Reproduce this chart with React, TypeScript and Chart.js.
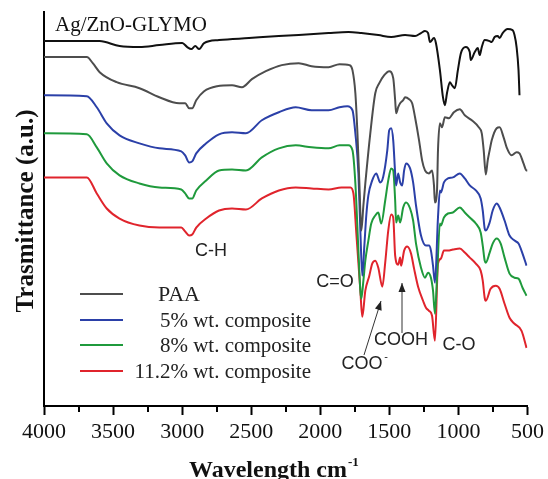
import React, { useEffect, useRef } from 'react';
import { Chart, registerables } from 'chart.js';

Chart.register(...registerables);

// x axis (wavenumber, cm-1), reversed
const X_TICKS = [4000, 3750, 3500, 3250, 3000, 2750, 2500, 2250, 2000, 1750, 1500, 1250, 1000, 750, 500];
const X_LABELS = [4000, 3500, 3000, 2500, 2000, 1500, 1000, 500];

// Ag/ZnO-GLYMO
const WN_GLYMO = [4000, 3813, 3597, 3453, 3309, 3165, 2999, 2963, 2934, 2905, 2877, 2841, 2733, 2516, 2300, 2156, 1940, 1796, 1703, 1580, 1487, 1386, 1314, 1271, 1242, 1220, 1206, 1177, 1163, 1134, 1112, 1098, 1083, 1062, 1047, 1026, 1004, 982, 947, 918, 911, 882, 860, 846, 831, 810, 774, 759, 738, 716, 702, 680, 644, 608, 594, 579, 565, 558];
const T_GLYMO = [364, 364, 364, 359, 358, 360, 362, 358, 356, 359, 356, 362, 365, 367, 369, 370, 372, 373, 372, 370, 368, 370, 369, 372, 374, 372, 363, 367, 362, 335, 308, 300, 312, 323, 320, 317, 335, 352, 358, 353, 345, 353, 357, 350, 358, 365, 364, 363, 368, 369, 367, 372, 376, 375, 370, 358, 335, 310];

// PAA
const WN_PAA = [4000, 3690, 3647, 3597, 3474, 3309, 3165, 3021, 2978, 2949, 2927, 2898, 2841, 2747, 2639, 2567, 2495, 2394, 2279, 2156, 2063, 1940, 1861, 1789, 1767, 1746, 1731, 1717, 1703, 1688, 1674, 1638, 1602, 1573, 1537, 1501, 1472, 1458, 1451, 1436, 1422, 1400, 1386, 1357, 1335, 1314, 1285, 1263, 1242, 1213, 1191, 1177, 1170, 1155, 1148, 1134, 1119, 1098, 1069, 1033, 990, 954, 903, 853, 831, 817, 802, 788, 774, 759, 723, 702, 673, 651, 615, 579, 558, 529, 507, 500];
const T_PAA = [348, 348, 342, 333, 323, 317, 308, 302, 302, 297, 297, 305, 314, 319, 320, 318, 326, 334, 340, 342, 339, 338, 341, 340, 335, 312, 272, 222, 175, 200, 222, 272, 312, 322, 330, 334, 327, 305, 292, 298, 302, 305, 308, 306, 302, 288, 265, 245, 235, 232, 235, 220, 203, 215, 255, 282, 278, 288, 287, 293, 296, 290, 285, 278, 272, 255, 231, 245, 255, 265, 277, 278, 268, 258, 250, 253, 252, 242, 235, 235];

// 5% wt. composite
const WN_5 = [4000, 3690, 3618, 3546, 3453, 3309, 3165, 3006, 2978, 2949, 2927, 2898, 2826, 2733, 2639, 2538, 2423, 2300, 2178, 2063, 1940, 1861, 1804, 1767, 1746, 1724, 1710, 1696, 1681, 1667, 1652, 1624, 1595, 1566, 1544, 1515, 1501, 1487, 1472, 1458, 1451, 1436, 1422, 1407, 1393, 1379, 1350, 1328, 1307, 1271, 1235, 1213, 1199, 1184, 1170, 1148, 1134, 1127, 1105, 1076, 1040, 990, 954, 918, 874, 839, 824, 810, 802, 774, 752, 723, 702, 666, 630, 594, 565, 536, 507];
const T_5 = [310, 309, 298, 282, 270, 262, 257, 254, 250, 243, 244, 252, 262, 271, 273, 272, 285, 293, 298, 295, 295, 298, 299, 295, 272, 232, 175, 130, 160, 190, 210, 225, 232, 223, 229, 255, 275, 277, 265, 232, 220, 232, 223, 220, 235, 242, 237, 223, 200, 170, 160, 160, 155, 140, 123, 188, 215, 213, 223, 227, 228, 232, 227, 220, 215, 207, 195, 177, 175, 183, 195, 202, 198, 185, 170, 165, 162, 152, 140];

// 8% wt. composite
const WN_8 = [4000, 3690, 3618, 3546, 3453, 3309, 3165, 3006, 2978, 2949, 2927, 2898, 2826, 2733, 2639, 2538, 2423, 2300, 2178, 2063, 1940, 1861, 1796, 1767, 1746, 1724, 1710, 1703, 1688, 1674, 1652, 1631, 1602, 1580, 1559, 1530, 1508, 1487, 1472, 1458, 1451, 1436, 1422, 1400, 1379, 1350, 1328, 1307, 1271, 1242, 1220, 1199, 1184, 1170, 1155, 1134, 1127, 1105, 1076, 1040, 990, 954, 918, 874, 839, 824, 810, 802, 774, 752, 723, 694, 666, 630, 594, 565, 536, 507];
const T_8 = [272, 271, 258, 242, 230, 222, 218, 216, 212, 207, 207, 215, 225, 235, 236, 235, 248, 257, 260, 258, 257, 260, 260, 255, 222, 155, 115, 107, 125, 145, 165, 182, 190, 193, 182, 205, 225, 237, 235, 205, 183, 190, 183, 198, 203, 197, 185, 162, 138, 128, 133, 128, 115, 92, 128, 182, 180, 188, 192, 193, 198, 193, 188, 182, 173, 160, 145, 143, 153, 162, 167, 162, 148, 132, 128, 127, 118, 110];

// 11.2% wt. composite
const WN_11 = [4000, 3690, 3618, 3546, 3453, 3309, 3165, 3006, 2978, 2949, 2927, 2898, 2826, 2733, 2639, 2538, 2423, 2300, 2178, 2063, 1940, 1847, 1782, 1760, 1739, 1710, 1696, 1674, 1645, 1624, 1602, 1580, 1551, 1530, 1508, 1487, 1472, 1458, 1436, 1422, 1415, 1393, 1371, 1343, 1321, 1292, 1256, 1235, 1213, 1191, 1170, 1148, 1127, 1105, 1076, 1040, 990, 954, 918, 874, 839, 824, 810, 802, 767, 730, 702, 666, 630, 594, 543, 507];
const T_11 = [228, 228, 212, 197, 187, 180, 178, 178, 174, 170, 171, 178, 187, 195, 197, 196, 207, 215, 218, 217, 216, 218, 218, 212, 172, 115, 89, 115, 130, 142, 145, 138, 119, 143, 175, 191, 188, 150, 141, 148, 140, 155, 159, 152, 137, 119, 105, 98, 95, 90, 65, 142, 147, 155, 155, 156, 157, 153, 148, 142, 135, 125, 108, 105, 117, 120, 117, 102, 88, 82, 75, 58];

const SERIES_NAMES = ['Ag/ZnO-GLYMO', 'PAA', '5% wt. composite', '8% wt. composite', '11.2% wt. composite'];
const SERIES_COLORS = ['#111111', '#4d4d4d', '#2b40a8', '#1f9a3c', '#e0242c'];

const SERIF = '"Liberation Serif", "Times New Roman", serif';
const SANS = '"Liberation Sans", Arial, sans-serif';

export default function App() {
  const ref = useRef<HTMLCanvasElement>(null);

  useEffect(() => {
    const zip = (w: number[], t: number[]) => w.map((x, i) => ({ x, y: t[i] }));
    const wns = [WN_GLYMO, WN_PAA, WN_5, WN_8, WN_11];
    const ts = [T_GLYMO, T_PAA, T_5, T_8, T_11];

    const overlay = {
      id: 'overlay',
      afterDraw(chart: any) {
        const ctx = chart.ctx as CanvasRenderingContext2D;
        const xs = chart.scales.x;
        const area = chart.chartArea;
        ctx.save();
        // minor ticks
        ctx.strokeStyle = '#000';
        ctx.lineWidth = 2;
        X_TICKS.filter((v) => !X_LABELS.includes(v)).forEach((v) => {
          const px = Math.round(xs.getPixelForValue(v));
          ctx.beginPath();
          ctx.moveTo(px, area.bottom);
          ctx.lineTo(px, area.bottom + 6);
          ctx.stroke();
        });

        // sample label
        ctx.fillStyle = '#111';
        ctx.font = `21px ${SERIF}`;
        ctx.textAlign = 'left';
        ctx.textBaseline = 'alphabetic';
        ctx.fillText(SERIES_NAMES[0], 55, 31);

        // legend
        const legY = [294, 320, 345, 371];
        for (let i = 0; i < 4; i++) {
          ctx.strokeStyle = SERIES_COLORS[i + 1];
          ctx.lineWidth = 2;
          ctx.beginPath();
          ctx.moveTo(80, legY[i]);
          ctx.lineTo(123, legY[i]);
          ctx.stroke();
          ctx.fillStyle = '#222';
          ctx.textBaseline = 'middle';
          if (i === 0) {
            ctx.font = `22px ${SERIF}`;
            ctx.textAlign = 'left';
            ctx.fillText(SERIES_NAMES[1], 158, legY[i] + 1);
          } else {
            ctx.font = `21px ${SERIF}`;
            ctx.textAlign = 'right';
            ctx.fillText(SERIES_NAMES[i + 1], 311, legY[i] + 1);
          }
        }

        // annotations
        ctx.fillStyle = '#222';
        ctx.font = `18px ${SANS}`;
        ctx.textAlign = 'center';
        ctx.textBaseline = 'middle';
        ctx.fillText('C-H', 211, 251);
        ctx.fillText('C=O', 335, 282);
        ctx.fillText('COOH', 401, 340);
        ctx.fillText('C-O', 459, 345);
        ctx.fillText('COO', 362, 364);
        ctx.font = `11px ${SANS}`;
        ctx.fillText('-', 386, 357);

        // arrows
        const arrow = (x1: number, y1: number, x2: number, y2: number) => {
          ctx.strokeStyle = '#333';
          ctx.fillStyle = '#222';
          ctx.lineWidth = 1;
          ctx.beginPath();
          ctx.moveTo(x1, y1);
          ctx.lineTo(x2, y2);
          ctx.stroke();
          const a = Math.atan2(y2 - y1, x2 - x1);
          const L = 9, W = 3.5;
          ctx.beginPath();
          ctx.moveTo(x2, y2);
          ctx.lineTo(x2 - L * Math.cos(a) + W * Math.sin(a), y2 - L * Math.sin(a) - W * Math.cos(a));
          ctx.lineTo(x2 - L * Math.cos(a) - W * Math.sin(a), y2 - L * Math.sin(a) + W * Math.cos(a));
          ctx.closePath();
          ctx.fill();
        };
        arrow(364, 355, 381, 301);
        arrow(402, 333, 402, 283);

        // x title
        ctx.fillStyle = '#111';
        ctx.font = `bold 24px ${SERIF}`;
        ctx.textAlign = 'left';
        ctx.textBaseline = 'alphabetic';
        ctx.fillText('Wavelength cm', 189, 477);
        const w = ctx.measureText('Wavelength cm').width;
        ctx.font = `bold 13px ${SERIF}`;
        ctx.fillText('-1', 189 + w + 1, 466);

        // y title
        ctx.translate(33, (area.top + area.bottom) / 2 + 2);
        ctx.rotate(-Math.PI / 2);
        ctx.font = `bold 25px ${SERIF}`;
        ctx.textAlign = 'center';
        ctx.textBaseline = 'alphabetic';
        ctx.fillText('Trasmittance (a.u.)', 0, 0);
        ctx.restore();
      },
    };

    const chart = new Chart(ref.current as HTMLCanvasElement, {
      type: 'line',
      data: {
        datasets: wns.map((w, i) => ({
          label: SERIES_NAMES[i],
          data: zip(w, ts[i]),
          borderColor: SERIES_COLORS[i],
          backgroundColor: SERIES_COLORS[i],
          borderWidth: 2,
          pointRadius: 0,
          fill: false,
          cubicInterpolationMode: 'monotone',
        })),
      },
      options: {
        animation: false,
        responsive: false,
        devicePixelRatio: 1,
        layout: { padding: { top: 12, right: 18, left: 0, bottom: 0 } },
        plugins: { legend: { display: false }, tooltip: { enabled: false } },
        scales: {
          x: {
            type: 'linear',
            reverse: true,
            min: 500,
            max: 4000,
            afterBuildTicks: (s: any) => {
              s.ticks = X_TICKS.map((v) => ({ value: v }));
            },
            afterFit: (s: any) => {
              s.height = 73;
            },
            ticks: {
              autoSkip: false,
              maxRotation: 0,
              padding: 4,
              color: '#111',
              font: { family: SERIF, size: 22 },
              callback: (v: any) => (X_LABELS.includes(Number(v)) ? String(v) : ''),
            },
            grid: {
              display: true,
              drawOnChartArea: false,
              drawTicks: true,
              tickLength: 9,
              tickWidth: 2,
              tickColor: (c: any) => (c.tick && X_LABELS.includes(c.tick.value) ? '#000' : 'rgba(0,0,0,0)'),
            },
            border: { display: true, color: '#000', width: 2 },
          },
          y: {
            min: 0,
            max: 393,
            afterFit: (s: any) => {
              s.width = 44;
            },
            ticks: { display: false },
            grid: { display: false, drawTicks: false },
            border: { display: true, color: '#000', width: 2 },
          },
        },
      } as any,
      plugins: [overlay],
    });
    return () => chart.destroy();
  }, []);

  return (
    <div style={{ position: 'absolute', left: 0, top: 0, width: 548, height: 479, background: '#fff' }}>
      <canvas ref={ref} width={548} height={479} style={{ width: 548, height: 479, display: 'block' }} />
    </div>
  );
}
